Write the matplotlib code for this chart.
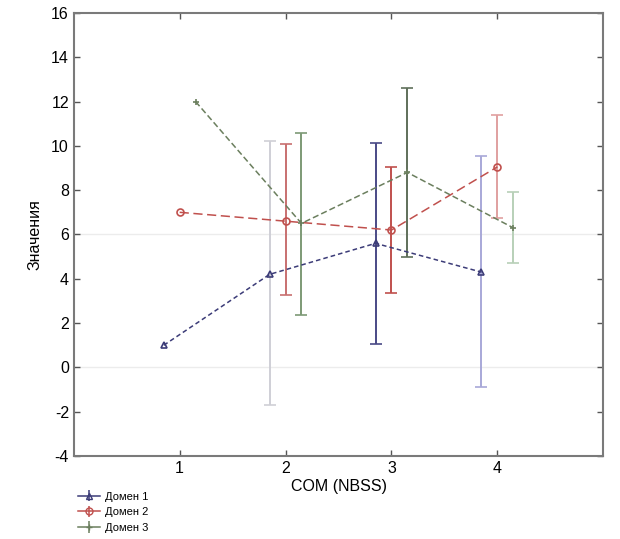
import matplotlib
matplotlib.use("Agg")
import matplotlib.pyplot as plt
import numpy as np

plt.rcParams['font.family'] = ['Liberation Sans', 'DejaVu Sans']
plt.rcParams['axes.unicode_minus'] = False

# Данные
categories = [1, 2, 3, 4]
tick_labels = ["1", "2", "3", "4"]
series_names = ["Домен 1", "Домен 2", "Домен 3"]
offsets = [-0.15, 0.0, 0.15]

dom1_mean = [1.0, 4.2, 5.6, 4.3]
dom1_low = [1.0, -1.7, 1.05, -0.9]
dom1_high = [1.0, 10.2, 10.15, 9.55]

dom2_mean = [7.0, 6.6, 6.2, 9.05]
dom2_low = [7.0, 3.25, 3.35, 6.75]
dom2_high = [7.0, 10.1, 9.05, 11.4]

dom3_mean = [12.0, 6.5, 8.8, 6.3]
dom3_low = [12.0, 2.35, 5.0, 4.7]
dom3_high = [12.0, 10.6, 12.6, 7.9]

means = [dom1_mean, dom2_mean, dom3_mean]
lows = [dom1_low, dom2_low, dom3_low]
highs = [dom1_high, dom2_high, dom3_high]

line_colors = ["#3c3c78", "#c0504d", "#6b7f5e"]
bar_colors = [
    ["#3c3c78", "#cfcfd6", "#4a4a86", "#a8a8d8"],
    ["#c0504d", "#c87070", "#c0504d", "#e0a0a0"],
    ["#6b7f5e", "#7d9a76", "#5f6f5a", "#b8d0b8"],
]
markers = ["^", "o", "+"]
dashes = [(3, 2), (6, 3), (4, 2)]

fig = plt.figure(figsize=(6.2, 5.39), dpi=100)
ax = fig.add_axes([0.119, 0.154, 0.854, 0.822])

ax.axhline(0, color="#ececec", lw=1, zorder=0)
ax.axhline(6, color="#ececec", lw=1, zorder=0)

handles = []
for i in range(3):
    x = np.array(categories) + offsets[i]
    m = np.array(means[i])
    lo = m - np.array(lows[i])
    hi = np.array(highs[i]) - m
    # вертикальные погрешности, у каждой точки свой оттенок
    for j in range(len(x)):
        if lo[j] > 0 or hi[j] > 0:
            ax.errorbar(x[j], m[j], yerr=[[lo[j]], [hi[j]]], fmt='none',
                        ecolor=bar_colors[i][j], elinewidth=1.4, capsize=4,
                        capthick=1.2, zorder=2)
    ax.plot(x, m, color=line_colors[i], lw=1.1, dashes=dashes[i],
            marker=markers[i], ms=5, mfc='none', mew=1.2, zorder=3)
    h = ax.errorbar([], [], yerr=[], color=line_colors[i], marker=markers[i],
                    ms=5, mfc='none', lw=1.1, capsize=3, label=series_names[i])
    handles.append(h)

ax.set_xlim(0, 5)
ax.set_ylim(-4, 16)
ax.set_xticks(categories)
ax.set_xticklabels(tick_labels)
ax.set_yticks(np.arange(-4, 17, 2))
ax.tick_params(direction='in', top=True, right=True, length=4, width=1,
               color="#555555", labelsize=11.5)
for s in ax.spines.values():
    s.set_color("#7a7a7a")
    s.set_linewidth(1.5)

ax.set_xlabel("COM (NBSS)", fontsize=11.5, labelpad=2)
ax.set_ylabel("Значения", fontsize=11.5, labelpad=6)

fig.legend(handles=handles, labels=series_names, loc='upper left',
           bbox_to_anchor=(0.115, 0.1), frameon=False, fontsize=8,
           handlelength=2.0, handletextpad=0.4, labelspacing=0.5,
           borderpad=0.1)

fig.savefig("out.png", dpi=100)
